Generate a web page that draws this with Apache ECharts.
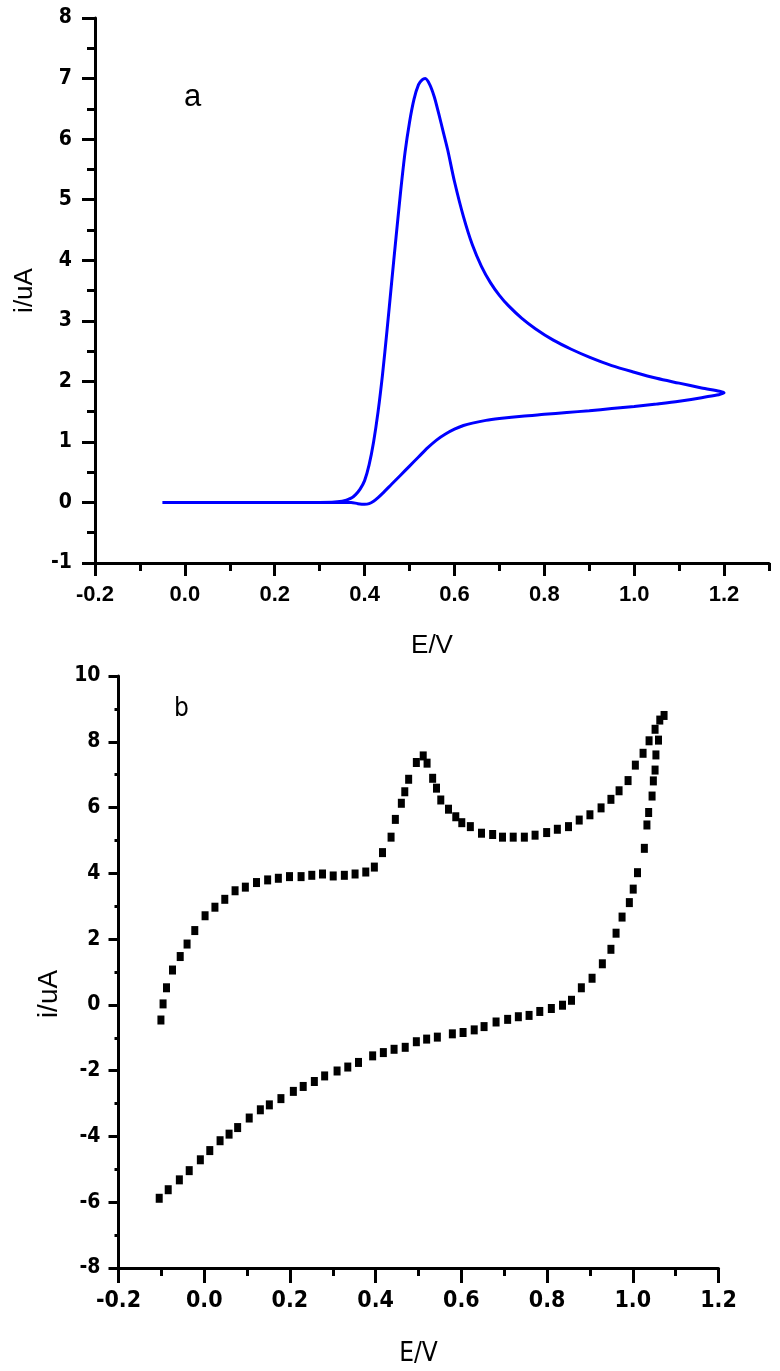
<!DOCTYPE html>
<html>
<head>
<meta charset="utf-8">
<script src="https://cdn.jsdelivr.net/npm/echarts@6/dist/echarts.min.js"></script>
<style>
  html, body { margin: 0; padding: 0; background: #fff; }
  #container { width: 780px; height: 1371px; }
</style>
</head>
<body>
<div id="container"></div>
<script>
// panel a: CV curve, forward scan then reverse scan  [E/V, i/uA]
var cvA_forward = [
  [-0.05, 0], [0.0, 0], [0.1, 0], [0.2, 0], [0.3, 0], [0.35, 0.02], [0.37, 0.07],
  [0.38, 0.13], [0.39, 0.22], [0.40, 0.36], [0.41, 0.62], [0.42, 1.0], [0.43, 1.5],
  [0.44, 2.12], [0.45, 2.85], [0.46, 3.62], [0.47, 4.38], [0.48, 5.12], [0.49, 5.78],
  [0.50, 6.28], [0.51, 6.66], [0.52, 6.9], [0.528, 6.98], [0.535, 7.0], [0.545, 6.9],
  [0.555, 6.7], [0.565, 6.42], [0.575, 6.12], [0.585, 5.82], [0.60, 5.30], [0.62, 4.72],
  [0.64, 4.25], [0.66, 3.90], [0.68, 3.63], [0.70, 3.42], [0.72, 3.25], [0.75, 3.04],
  [0.78, 2.87], [0.82, 2.68], [0.86, 2.53], [0.90, 2.40], [0.95, 2.26], [1.0, 2.15],
  [1.05, 2.05], [1.10, 1.97], [1.15, 1.89], [1.20, 1.81]
];
var cvA_reverse = [
  [1.15, 1.73], [1.10, 1.67], [1.05, 1.625], [1.0, 1.585], [0.95, 1.55], [0.90, 1.515],
  [0.85, 1.485], [0.80, 1.455], [0.75, 1.425], [0.70, 1.385], [0.67, 1.355], [0.64, 1.31],
  [0.62, 1.27], [0.60, 1.21], [0.58, 1.13], [0.56, 1.03], [0.54, 0.90], [0.52, 0.75],
  [0.50, 0.60], [0.48, 0.45], [0.46, 0.30], [0.44, 0.15], [0.43, 0.08], [0.42, 0.02],
  [0.41, -0.02], [0.40, -0.03], [0.385, -0.02], [0.37, 0.0], [0.3, 0], [0.2, 0],
  [0.1, 0], [0.0, 0], [-0.05, 0]
];

// panel b: measured points, upper (anodic) and lower (cathodic) branch
var cvB_upper = [
  [-0.101, -0.46], [-0.096, 0.03], [-0.088, 0.52], [-0.074, 1.06], [-0.056, 1.47],
  [-0.04, 1.85], [-0.022, 2.26], [0.002, 2.71], [0.025, 2.97], [0.048, 3.21],
  [0.072, 3.47], [0.096, 3.58], [0.122, 3.72], [0.148, 3.80], [0.173, 3.85],
  [0.199, 3.90], [0.226, 3.90], [0.251, 3.94], [0.276, 3.98], [0.301, 3.92],
  [0.327, 3.94], [0.352, 3.98], [0.377, 4.04], [0.397, 4.19], [0.416, 4.63],
  [0.436, 5.10], [0.446, 5.64], [0.46, 6.13], [0.468, 6.48], [0.477, 6.86],
  [0.495, 7.37], [0.511, 7.57], [0.52, 7.35], [0.533, 6.89], [0.542, 6.59],
  [0.552, 6.23], [0.57, 5.95], [0.587, 5.72], [0.601, 5.54], [0.621, 5.42],
  [0.647, 5.22], [0.673, 5.18], [0.696, 5.10], [0.721, 5.10], [0.747, 5.10],
  [0.772, 5.16], [0.799, 5.24], [0.824, 5.34], [0.85, 5.42], [0.875, 5.62],
  [0.9, 5.78], [0.926, 5.99], [0.949, 6.25], [0.968, 6.51], [0.989, 6.82],
  [1.006, 7.29], [1.024, 7.65], [1.038, 8.03], [1.052, 8.38], [1.063, 8.66],
  [1.073, 8.8]
];
var cvB_lower = [
  [1.06, 8.05], [1.054, 7.6], [1.052, 7.14], [1.048, 6.81], [1.045, 6.35],
  [1.037, 5.85], [1.033, 5.47], [1.027, 4.76], [1.011, 4.02], [1.001, 3.52],
  [0.992, 3.11], [0.975, 2.67], [0.961, 2.18], [0.949, 1.69], [0.929, 1.25],
  [0.905, 0.81], [0.88, 0.52], [0.857, 0.14], [0.836, -0.01], [0.81, -0.11],
  [0.783, -0.2], [0.758, -0.32], [0.733, -0.36], [0.708, -0.44], [0.681, -0.52],
  [0.653, -0.66], [0.63, -0.76], [0.604, -0.84], [0.579, -0.88], [0.544, -0.98],
  [0.519, -1.04], [0.495, -1.12], [0.469, -1.29], [0.443, -1.35], [0.418, -1.45],
  [0.393, -1.55], [0.36, -1.75], [0.335, -1.89], [0.31, -2.01], [0.281, -2.16],
  [0.257, -2.33], [0.231, -2.48], [0.208, -2.63], [0.179, -2.85], [0.152, -3.04],
  [0.131, -3.19], [0.105, -3.44], [0.078, -3.73], [0.058, -3.93], [0.037, -4.13],
  [0.013, -4.43], [-0.009, -4.71], [-0.035, -5.04], [-0.058, -5.32], [-0.084, -5.62],
  [-0.105, -5.88]
];

// labelled x ticks
var xTicksA = [-0.2, 0.0, 0.2, 0.4, 0.6, 0.8, 1.0, 1.2];

var dom = document.getElementById("container");
var myChart = echarts.init(dom);

var narrow = "'DejaVu Sans Condensed', 'Liberation Sans', sans-serif";
var axisBlack = { onZero: false, lineStyle: { color: '#000', width: 3 } };
var tickBlack = { color: '#000', width: 3 };
var fmt1 = function (v) { return (+v).toFixed(1); };

option = {
    animation: false,
    backgroundColor: '#fff',
    graphic: [
        { type: 'text', left: 184, top: 82, style: { text: 'a', fontSize: 31, fontFamily: 'Liberation Sans', fill: '#000' } },
        { type: 'text', left: 174, top: 696, style: { text: 'b', fontSize: 26, fontFamily: narrow, fill: '#000' } }
    ],
    grid: [
        { left: 95, top: 18, width: 674, height: 545 },
        { left: 118.5, top: 676, width: 600, height: 592 }
    ],
    xAxis: [
        {
            gridIndex: 0, type: 'value', position: 'bottom', min: -0.2, max: 1.3, interval: 0.1,
            name: 'E/V', nameLocation: 'middle', nameGap: 70,
            nameTextStyle: { fontSize: 26, fontFamily: 'Liberation Sans', color: '#000' },
            axisLine: axisBlack,
            axisTick: { customValues: xTicksA, length: 13, lineStyle: tickBlack },
            axisLabel: { customValues: xTicksA, formatter: fmt1, margin: 21, fontSize: 22, fontWeight: 'bold', fontFamily: 'Liberation Sans', color: '#000' },
            splitLine: { show: false }
        },
        {
            // minor ticks of panel a, every 0.1
            gridIndex: 0, type: 'value', position: 'bottom', min: -0.2, max: 1.3, interval: 0.1,
            axisLine: { show: false, onZero: false },
            axisTick: { length: 8, lineStyle: tickBlack },
            axisLabel: { show: false },
            splitLine: { show: false }
        },
        {
            gridIndex: 1, type: 'value', position: 'bottom', min: -0.2, max: 1.2, interval: 0.2,
            name: 'E/V', nameLocation: 'middle', nameGap: 73,
            nameTextStyle: { fontSize: 26, fontFamily: narrow, color: '#000' },
            axisLine: axisBlack,
            axisTick: { length: 15, lineStyle: tickBlack },
            minorTick: { show: true, splitNumber: 2, length: 8, lineStyle: tickBlack },
            axisLabel: { formatter: fmt1, margin: 22, fontSize: 23, fontWeight: 'bold', fontFamily: narrow, color: '#000' },
            splitLine: { show: false }
        }
    ],
    yAxis: [
        {
            gridIndex: 0, type: 'value', min: -1, max: 8, interval: 1,
            name: 'i/uA', nameLocation: 'middle', nameRotate: 90, nameGap: 57,
            nameTextStyle: { fontSize: 26, fontFamily: 'Liberation Sans', color: '#000' },
            axisLine: axisBlack,
            axisTick: { length: 13, lineStyle: tickBlack },
            minorTick: { show: true, splitNumber: 2, length: 8, lineStyle: tickBlack },
            axisLabel: { margin: 23, fontSize: 21, fontWeight: 'bold', fontFamily: narrow, color: '#000' },
            splitLine: { show: false }
        },
        {
            gridIndex: 1, type: 'value', min: -8, max: 10, interval: 2,
            name: 'i/uA', nameLocation: 'middle', nameRotate: 90, nameGap: 51,
            nameTextStyle: { fontSize: 28, fontFamily: 'Liberation Sans', color: '#000', padding: [0, 44, 0, 0] },
            axisLine: axisBlack,
            axisTick: { length: 10, lineStyle: tickBlack },
            minorTick: { show: true, splitNumber: 2, length: 4, lineStyle: tickBlack },
            axisLabel: { margin: 18, fontSize: 21, fontWeight: 'bold', fontFamily: narrow, color: '#000' },
            splitLine: { show: false }
        }
    ],
    series: [
        {
            name: 'a',
            type: 'line',
            xAxisIndex: 0, yAxisIndex: 0,
            symbol: 'none',
            smooth: 0.3,
            lineStyle: { color: '#0000ff', width: 3 },
            data: cvA_forward.concat(cvA_reverse)
        },
        {
            name: 'b',
            type: 'scatter',
            xAxisIndex: 2, yAxisIndex: 1,
            symbol: 'rect',
            symbolSize: [7, 9],
            itemStyle: { color: '#000', opacity: 1 },
            data: cvB_upper.concat(cvB_lower)
        }
    ]
};

if (option && typeof option === "object") {
    myChart.setOption(option, true);
}
</script>
</body>
</html>
